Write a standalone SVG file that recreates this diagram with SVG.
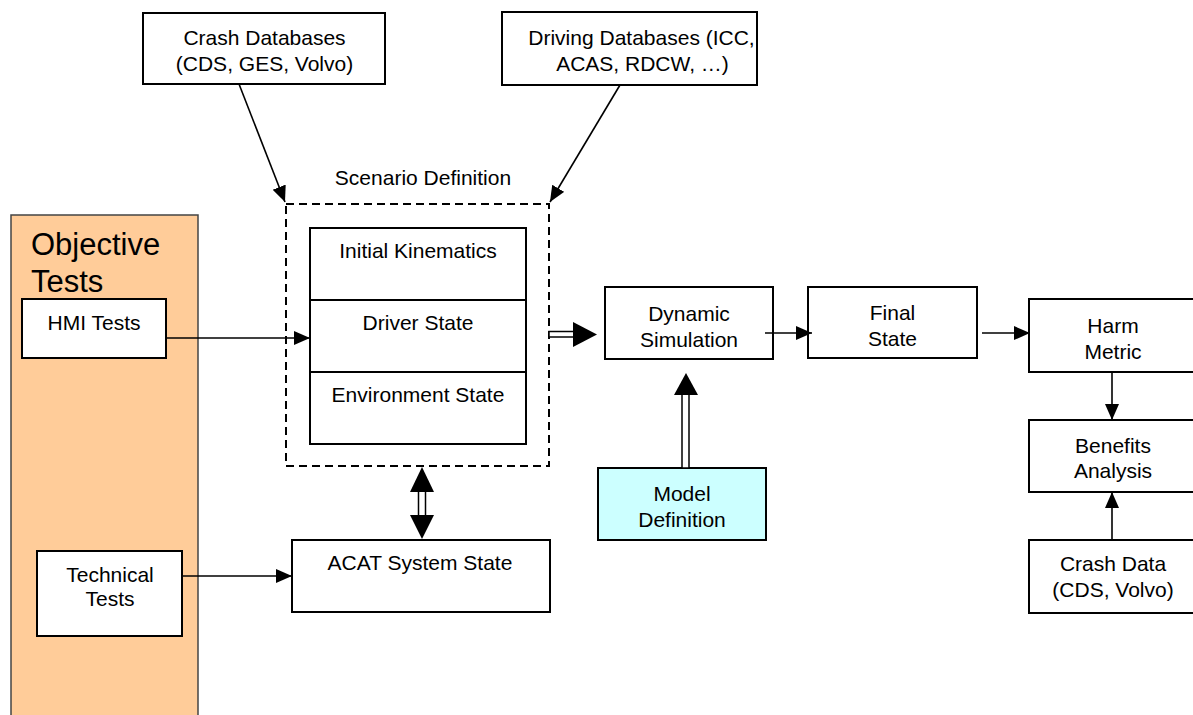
<svg xmlns="http://www.w3.org/2000/svg" width="1193" height="715" viewBox="0 0 1193 715">
<defs>
<style>
.box{fill:#fff;stroke:#000;stroke-width:2}
.t{font-family:"Liberation Sans",Arial,sans-serif;font-size:21px;fill:#000;text-anchor:middle}
.big{font-family:"Liberation Sans",Arial,sans-serif;font-size:31px;fill:#000}
.ln{stroke:#000;stroke-width:1.6;fill:none}
.dbl{fill:#fff;stroke:#000;stroke-width:1.5}
.head{fill:#000}
</style>
<marker id="ah" markerUnits="userSpaceOnUse" markerWidth="17" markerHeight="15" refX="16" refY="7" orient="auto">
<path d="M0,0 L16,7 L0,14 z" fill="#000"/>
</marker>
</defs>
<rect width="1193" height="715" fill="#fff"/>

<g id="objective-tests">
<rect x="11" y="215" width="187" height="510" fill="#FFCC99" stroke="#444" stroke-width="1.5"/>
<text class="big" x="31" y="255">Objective</text>
<text class="big" x="31" y="292">Tests</text>
</g>

<g id="crash-databases">
<rect class="box" x="143" y="13" width="242" height="71"/>
<text class="t" x="264.5" y="45">Crash Databases</text>
<text class="t" x="264.5" y="71">(CDS, GES, Volvo)</text>
</g>

<g id="driving-databases">
<rect class="box" x="502" y="12" width="255" height="73"/>
<text class="t" x="641.5" y="45">Driving Databases (ICC,</text>
<text class="t" x="642.5" y="71">ACAS, RDCW, …)</text>
</g>

<g id="scenario-definition">
<text class="t" x="423" y="185">Scenario Definition</text>
<rect x="286" y="204" width="263" height="262" fill="none" stroke="#000" stroke-width="2" stroke-dasharray="8,5"/>
<rect class="box" x="310" y="228" width="216" height="72"/>
<text class="t" x="418" y="258">Initial Kinematics</text>
<rect class="box" x="310" y="300" width="216" height="72"/>
<text class="t" x="418" y="330">Driver State</text>
<rect class="box" x="310" y="372" width="216" height="72"/>
<text class="t" x="418" y="402">Environment State</text>
</g>

<g id="hmi-tests">
<rect class="box" x="22" y="299" width="144" height="59"/>
<text class="t" x="94" y="330">HMI Tests</text>
</g>

<g id="technical-tests">
<rect class="box" x="37" y="551" width="145" height="85"/>
<text class="t" x="110" y="582">Technical</text>
<text class="t" x="110" y="606">Tests</text>
</g>

<g id="acat-system-state">
<rect class="box" x="292" y="540" width="258" height="72"/>
<text class="t" x="420" y="570">ACAT System State</text>
</g>

<g id="dynamic-simulation">
<rect class="box" x="605" y="287" width="168" height="72"/>
<text class="t" x="689" y="321">Dynamic</text>
<text class="t" x="689" y="347">Simulation</text>
</g>

<g id="model-definition">
<rect x="598" y="468" width="168" height="72" fill="#CCFFFF" stroke="#000" stroke-width="2"/>
<text class="t" x="682" y="501">Model</text>
<text class="t" x="682" y="527">Definition</text>
</g>

<g id="final-state">
<rect class="box" x="808" y="287" width="169" height="71"/>
<text class="t" x="892.5" y="320">Final</text>
<text class="t" x="892.5" y="346">State</text>
</g>

<g id="harm-metric">
<rect class="box" x="1029" y="299" width="170" height="73"/>
<text class="t" x="1113" y="333">Harm</text>
<text class="t" x="1113" y="359">Metric</text>
</g>

<g id="benefits-analysis">
<rect class="box" x="1029" y="420" width="170" height="72"/>
<text class="t" x="1113" y="453">Benefits</text>
<text class="t" x="1113" y="478">Analysis</text>
</g>

<g id="crash-data">
<rect class="box" x="1029" y="540" width="170" height="73"/>
<text class="t" x="1113" y="571">Crash Data</text>
<text class="t" x="1113" y="597">(CDS, Volvo)</text>
</g>

<g id="connectors">
<line class="ln" x1="239" y1="84" x2="285" y2="202" marker-end="url(#ah)"/>
<line class="ln" x1="620" y1="85" x2="550" y2="202" marker-end="url(#ah)"/>
<line class="ln" x1="166" y1="338" x2="310" y2="338" marker-end="url(#ah)"/>
<line class="ln" x1="182" y1="576" x2="292" y2="576" marker-end="url(#ah)"/>
<line class="ln" x1="765" y1="333" x2="812" y2="333" marker-end="url(#ah)"/>
<line class="ln" x1="982" y1="333" x2="1030" y2="333" marker-end="url(#ah)"/>
<line class="ln" x1="1112" y1="372" x2="1112" y2="420" marker-end="url(#ah)"/>
<line class="ln" x1="1112" y1="540" x2="1112" y2="492" marker-end="url(#ah)"/>

<rect class="dbl" x="549" y="331.5" width="25" height="5.5"/>
<polygon class="head" points="573,322 597,334.5 573,347"/>

<rect class="dbl" x="682" y="394" width="7" height="74"/>
<polygon class="head" points="674,395 686,373 698,395"/>

<rect class="dbl" x="418.5" y="491" width="7" height="25"/>
<polygon class="head" points="410,492 422,467 434,492"/>
<polygon class="head" points="410,515 422,539 434,515"/>
</g>
</svg>
